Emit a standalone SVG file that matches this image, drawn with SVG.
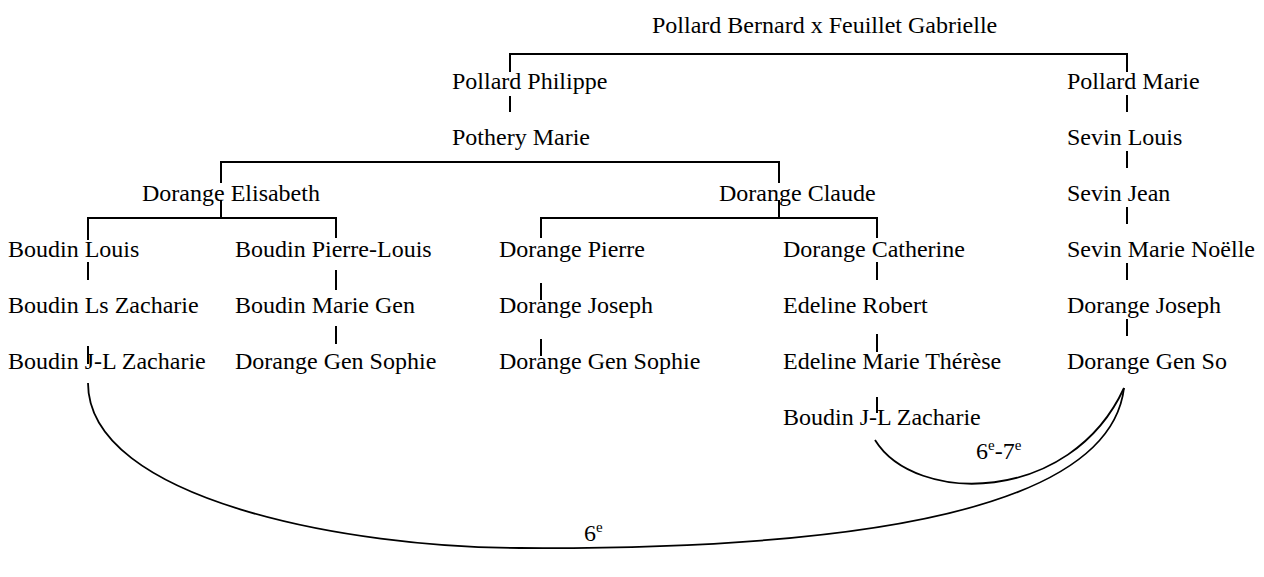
<svg xmlns="http://www.w3.org/2000/svg" width="1264" height="577" viewBox="0 0 1264 577">
<style>
text{font-family:'Liberation Serif','Times New Roman',Times,serif;font-size:24px;fill:#000}
.l{stroke:#000;stroke-width:2;fill:none}
.c{stroke:#000;stroke-width:1.8;fill:none}
</style>
<rect width="1264" height="577" fill="#fff"/>
<g id="connectors">
<path class="l" d="M510,72V54H1127V72"/>
<path class="l" d="M510,96V112"/>
<path class="l" d="M221,183V162H779V183"/>
<path class="l" d="M221,200V218"/>
<path class="l" d="M88,240V218H336V238"/>
<path class="l" d="M88,262V280M88,346V364"/>
<path class="l" d="M336,270V290M336,326V344"/>
<path class="l" d="M779,200V218"/>
<path class="l" d="M541,238V218H877V238"/>
<path class="l" d="M541,283V300M541,339V356"/>
<path class="l" d="M877,262V280M877,334V352M877,397V413"/>
<path class="l" d="M1127,95V112M1127,151V168M1127,207V224M1127,263V280M1127,319V336"/>
<path class="c" d="M88,383C88,500 350,548 520,548C880,550 1110,505 1124,388"/>
<path class="c" d="M875,440C915,505 1070,505 1124,388"/>
</g>
<g font-family="Liberation Serif, serif">
<g id="n-root"><text x="652" y="33">Pollard Bernard x Feuillet Gabrielle</text></g>
<g id="n-pphilippe"><text x="452" y="89">Pollard Philippe</text></g>
<g id="n-pothery"><text x="452" y="145">Pothery Marie</text></g>
<g id="n-pmarie"><text x="1067" y="89">Pollard Marie</text></g>
<g id="n-sevinlouis"><text x="1067" y="145">Sevin Louis</text></g>
<g id="n-sevinjean"><text x="1067" y="201">Sevin Jean</text></g>
<g id="n-sevinmn"><text x="1067" y="257">Sevin Marie Noëlle</text></g>
<g id="n-djoseph2"><text x="1067" y="313">Dorange Joseph</text></g>
<g id="n-dgenso"><text x="1067" y="369">Dorange Gen So</text></g>
<g id="n-delisabeth"><text x="142" y="201">Dorange Elisabeth</text></g>
<g id="n-dclaude"><text x="719" y="201">Dorange Claude</text></g>
<g id="n-blouis"><text x="8" y="257">Boudin Louis</text></g>
<g id="n-blsz"><text x="8" y="313">Boudin Ls Zacharie</text></g>
<g id="n-bjlz1"><text x="8" y="369">Boudin J-L Zacharie</text></g>
<g id="n-bpl"><text x="235" y="257">Boudin Pierre-Louis</text></g>
<g id="n-bmg"><text x="235" y="313">Boudin Marie Gen</text></g>
<g id="n-dgs1"><text x="235" y="369">Dorange Gen Sophie</text></g>
<g id="n-dpierre"><text x="499" y="257">Dorange Pierre</text></g>
<g id="n-djoseph1"><text x="499" y="313">Dorange Joseph</text></g>
<g id="n-dgs2"><text x="499" y="369">Dorange Gen Sophie</text></g>
<g id="n-dcath"><text x="783" y="257">Dorange Catherine</text></g>
<g id="n-erobert"><text x="783" y="313">Edeline Robert</text></g>
<g id="n-emt"><text x="783" y="369">Edeline Marie Thérèse</text></g>
<g id="n-bjlz2"><text x="783" y="425">Boudin J-L Zacharie</text></g>
<g id="labels">
<text x="976" y="459">6<tspan font-size="15" dy="-9">e</tspan><tspan dy="9">-7</tspan><tspan font-size="15" dy="-9">e</tspan></text>
<text x="584" y="541">6<tspan font-size="15" dy="-9">e</tspan></text>
</g>
</g>
</svg>
